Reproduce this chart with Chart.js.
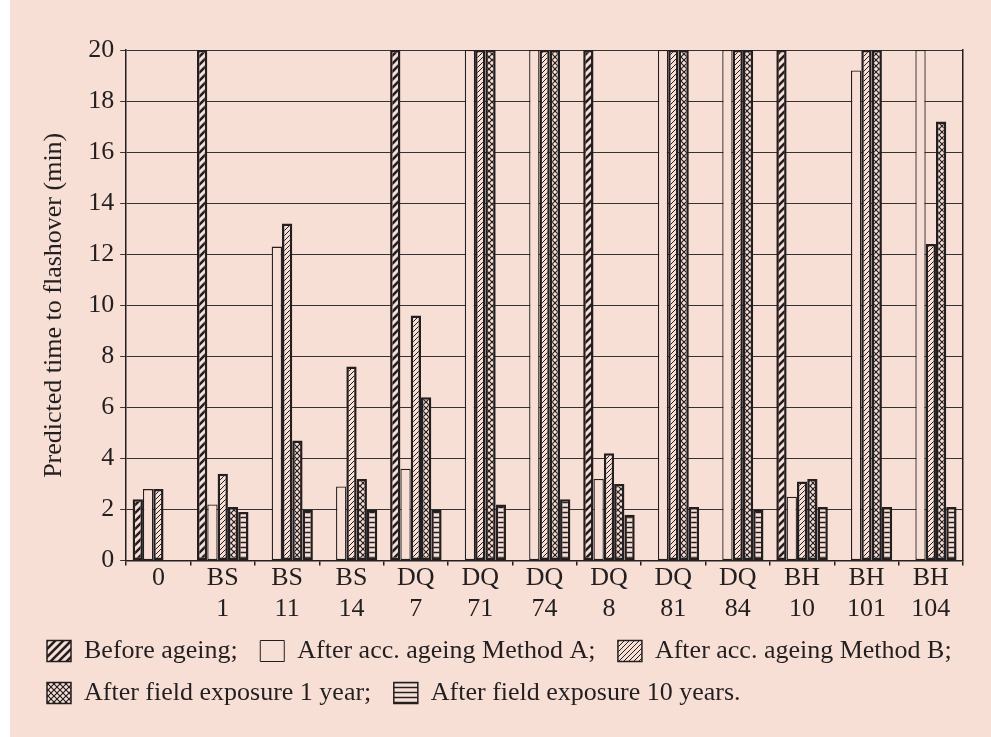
<!DOCTYPE html>
<html>
<head>
<meta charset="utf-8">
<script src="https://cdn.jsdelivr.net/npm/chart.js@4/dist/chart.umd.min.js"></script>
<style>
  html, body { margin: 0; background: #fff; }
  #wrap {
    position: relative;
    width: 991px;
    height: 737px;
    background: linear-gradient(to right, #fff 0, #fff 10px, #f8dfd5 10px);
  }
</style>
</head>
<body>
<div id="wrap"><canvas id="chart"></canvas></div>
<script>
// samples on the x axis (two-line labels)
const categories = [
    '0',
    ['BS', '1'], ['BS', '11'], ['BS', '14'],
    ['DQ', '7'], ['DQ', '71'], ['DQ', '74'], ['DQ', '8'], ['DQ', '81'], ['DQ', '84'],
    ['BH', '10'], ['BH', '101'], ['BH', '104']
];

const seriesNames = [
    'Before ageing;',
    'After acc. ageing Method A;',
    'After acc. ageing Method B;',
    'After field exposure 1 year;',
    'After field exposure 10 years.'
];

// predicted time to flashover, min (null = no bar)
const beforeAgeing = [2.4, 20, null, null, 20, null, null, 20, null, null, 20, null, null];
const methodA      = [2.8, 2.2, 12.3, 2.9, 3.6, 20, 20, 3.2, 20, 20, 2.5, 19.2, 20];
const methodB      = [2.8, 3.4, 13.2, 7.6, 9.6, 20, 20, 4.2, 20, 20, 3.1, 20, 12.4];
const field1Year   = [null, 2.1, 4.7, 3.2, 6.4, 20, 20, 3.0, 20, 20, 3.2, 20, 17.2];
const field10Years = [null, 1.9, 2.0, 2.0, 2.0, 2.2, 2.4, 1.8, 2.1, 2.0, 2.1, 2.1, 2.1];

const yTicks = [0, 2, 4, 6, 8, 10, 12, 14, 16, 18, 20];

const BG = '#f8dfd5';
const INK = '#231f20';
const FONT = '"Liberation Serif", "Times New Roman", serif';

Chart.defaults.font.family = FONT;
Chart.defaults.color = INK;

const ctx = document.getElementById('chart').getContext('2d');

// hatch fills
function makePattern(size, draw) {
    const c = document.createElement('canvas');
    c.width = size;
    c.height = size;
    const g = c.getContext('2d');
    g.fillStyle = BG;
    g.fillRect(0, 0, size, size);
    g.strokeStyle = INK;
    draw(g, size);
    return ctx.createPattern(c, 'repeat');
}

function diagonal(g, s) {
    g.beginPath();
    g.moveTo(-1, s + 1); g.lineTo(s + 1, -1);
    g.moveTo(-1, 1); g.lineTo(1, -1);
    g.moveTo(s - 1, s + 1); g.lineTo(s + 1, s - 1);
    g.stroke();
}

function backDiagonal(g, s) {
    g.beginPath();
    g.moveTo(-1, -1); g.lineTo(s + 1, s + 1);
    g.moveTo(s - 1, -1); g.lineTo(s + 1, 1);
    g.moveTo(-1, s - 1); g.lineTo(1, s + 1);
    g.stroke();
}

const thickHatch = makePattern(8, (g, s) => { g.lineWidth = 2.6; diagonal(g, s); });
const thinHatch = makePattern(5, (g, s) => { g.lineWidth = 1; diagonal(g, s); });
const crossHatch = makePattern(6, (g, s) => { g.lineWidth = 1.2; diagonal(g, s); backDiagonal(g, s); });
const hLines = makePattern(5, (g, s) => {
    g.lineWidth = 1.5;
    g.beginPath();
    g.moveTo(0, 2.5); g.lineTo(s, 2.5);
    g.stroke();
});

const fills = [thickHatch, BG, thinHatch, crossHatch, hLines];
const values = [beforeAgeing, methodA, methodB, field1Year, field10Years];

const datasets = values.map((data, i) => ({
    label: seriesNames[i],
    data: data,
    backgroundColor: fills[i],
    borderColor: INK,
    borderWidth: i === 1 ? 1.3 : 2.5,
    borderSkipped: false,
    categoryPercentage: 0.8,
    barPercentage: 1.0
}));

new Chart(ctx, {
    type: 'bar',
    data: {
        labels: categories,
        datasets: datasets
    },
    options: {
        responsive: true,
        maintainAspectRatio: false,
        animation: false,
        layout: {
            padding: { left: 31, right: 0, top: 50, bottom: 21 }
        },
        scales: {
            x: {
                grid: {
                    offset: true,
                    drawOnChartArea: false,
                    tickLength: 5,
                    color: INK,
                    lineWidth: 1.5
                },
                border: { display: true, color: INK, width: 1.5 },
                ticks: {
                    font: { size: 26 },
                    color: INK,
                    padding: -3,
                    maxRotation: 0,
                    autoSkip: false
                }
            },
            y: {
                min: 0,
                max: 20,
                afterBuildTicks: (scale) => {
                    scale.ticks = yTicks.map(v => ({ value: v }));
                },
                grid: {
                    color: '#333',
                    lineWidth: 1,
                    tickLength: 6
                },
                border: { display: true, color: INK, width: 1.5 },
                ticks: {
                    font: { size: 26 },
                    color: INK,
                    padding: 6
                },
                title: {
                    display: true,
                    text: 'Predicted time to flashover (min)',
                    font: { size: 26 },
                    color: INK,
                    padding: { top: 8, bottom: 12 }
                }
            },
            // right edge of the frame
            frame: {
                type: 'linear',
                position: 'right',
                min: 0,
                max: 20,
                ticks: { display: false },
                grid: { drawOnChartArea: false, drawTicks: false },
                border: { display: true, color: INK, width: 1.5 },
                afterFit: (scale) => { scale.width = 28; }
            }
        },
        plugins: {
            tooltip: { enabled: false },
            legend: {
                position: 'bottom',
                align: 'start',
                labels: {
                    font: { size: 26 },
                    color: INK,
                    boxWidth: 24,
                    boxHeight: 21,
                    padding: 16,
                    generateLabels: (chart) => {
                        const items = Chart.defaults.plugins.legend.labels.generateLabels(chart);
                        items.forEach((item, i) => {
                            // a little extra room before the next swatch
                            if (i === 0 || i === 1 || i === 3) item.text += ' ';
                            item.lineWidth = i === 1 ? 1 : 1.5;
                        });
                        return items;
                    }
                }
            }
        }
    }
});
</script>
</body>
</html>
